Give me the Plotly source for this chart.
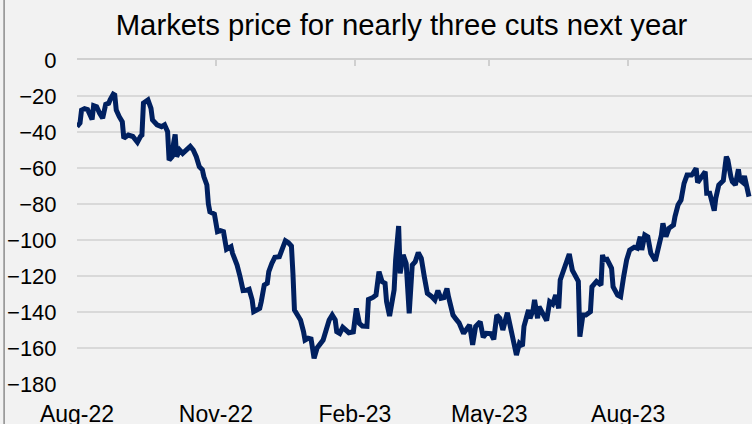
import plotly.graph_objects as go

dates = [
    "2022-08-01", "2022-08-03", "2022-08-04", "2022-08-06", "2022-08-08", "2022-08-11", "2022-08-12",
    "2022-08-14", "2022-08-16", "2022-08-18", "2022-08-20", "2022-08-22", "2022-08-23", "2022-08-25",
    "2022-08-26", "2022-08-27", "2022-08-29", "2022-08-31", "2022-09-01", "2022-09-04", "2022-09-07",
    "2022-09-10", "2022-09-12", "2022-09-13", "2022-09-14", "2022-09-17", "2022-09-19", "2022-09-20",
    "2022-09-23", "2022-09-26", "2022-09-28", "2022-09-30", "2022-10-01", "2022-10-03", "2022-10-04",
    "2022-10-05", "2022-10-06", "2022-10-08", "2022-10-10", "2022-10-13", "2022-10-15", "2022-10-17",
    "2022-10-19", "2022-10-21", "2022-10-23", "2022-10-24", "2022-10-26", "2022-10-27", "2022-10-28",
    "2022-10-31", "2022-11-02", "2022-11-04", "2022-11-06", "2022-11-08", "2022-11-11", "2022-11-12",
    "2022-11-15", "2022-11-17", "2022-11-19", "2022-11-21", "2022-11-23", "2022-11-25", "2022-11-26",
    "2022-11-28", "2022-11-30", "2022-12-01", "2022-12-03", "2022-12-05", "2022-12-06", "2022-12-08",
    "2022-12-10", "2022-12-13", "2022-12-15", "2022-12-17", "2022-12-19", "2022-12-21", "2022-12-22",
    "2022-12-23", "2022-12-25", "2022-12-27", "2022-12-29", "2022-12-30", "2023-01-01", "2023-01-03",
    "2023-01-04", "2023-01-05", "2023-01-07", "2023-01-09", "2023-01-11", "2023-01-13", "2023-01-15",
    "2023-01-17", "2023-01-19", "2023-01-20", "2023-01-22", "2023-01-24", "2023-01-26", "2023-01-28",
    "2023-01-31", "2023-02-02", "2023-02-04", "2023-02-06", "2023-02-09", "2023-02-10", "2023-02-13",
    "2023-02-15", "2023-02-17", "2023-02-19", "2023-02-21", "2023-02-22", "2023-02-24", "2023-02-27",
    "2023-02-28", "2023-03-02", "2023-03-03", "2023-03-05", "2023-03-07", "2023-03-09", "2023-03-11",
    "2023-03-13", "2023-03-15", "2023-03-17", "2023-03-19", "2023-03-21", "2023-03-24", "2023-03-26",
    "2023-03-28", "2023-03-30", "2023-04-01", "2023-04-03", "2023-04-04", "2023-04-07", "2023-04-09",
    "2023-04-11", "2023-04-14", "2023-04-16", "2023-04-18", "2023-04-20", "2023-04-22", "2023-04-25",
    "2023-04-27", "2023-04-29", "2023-05-02", "2023-05-04", "2023-05-06", "2023-05-08", "2023-05-10",
    "2023-05-13", "2023-05-15", "2023-05-17", "2023-05-19", "2023-05-21", "2023-05-23", "2023-05-24",
    "2023-05-27", "2023-05-28", "2023-05-30", "2023-05-31", "2023-06-02", "2023-06-03", "2023-06-06",
    "2023-06-08", "2023-06-10", "2023-06-12", "2023-06-14", "2023-06-16", "2023-06-17", "2023-06-19",
    "2023-06-21", "2023-06-23", "2023-06-25", "2023-06-28", "2023-06-29", "2023-06-30", "2023-07-02",
    "2023-07-04", "2023-07-07", "2023-07-08", "2023-07-11", "2023-07-14", "2023-07-15", "2023-07-16",
    "2023-07-18", "2023-07-21", "2023-07-22", "2023-07-25", "2023-07-27", "2023-07-29", "2023-07-31",
    "2023-08-02", "2023-08-05", "2023-08-07", "2023-08-09", "2023-08-10", "2023-08-12", "2023-08-14",
    "2023-08-16", "2023-08-19", "2023-08-21", "2023-08-23", "2023-08-24", "2023-08-26", "2023-08-28",
    "2023-08-31", "2023-09-01", "2023-09-03", "2023-09-05", "2023-09-07", "2023-09-09", "2023-09-12",
    "2023-09-13", "2023-09-15", "2023-09-16", "2023-09-18", "2023-09-21", "2023-09-22", "2023-09-24",
    "2023-09-27", "2023-09-28", "2023-09-30", "2023-10-03", "2023-10-05", "2023-10-06", "2023-10-08",
    "2023-10-09", "2023-10-11", "2023-10-13", "2023-10-14", "2023-10-16", "2023-10-17", "2023-10-19",
    "2023-10-20",
]

values = [
    -37, -35, -27.8, -27, -27.5, -33, -25.4,
    -26, -29.6, -32.4, -24.6, -24, -22, -19,
    -19.5, -27.8, -31.5, -34.3, -43.5, -41.7, -42.5,
    -45.7, -42.5, -41.7, -24, -22.2, -26.9, -33.3,
    -36, -37, -36, -39.8, -55.6, -53.7, -46,
    -41.3, -53.7, -50, -51.9, -49, -48, -50,
    -53.7, -59.3, -61, -64.8, -69.4, -80, -84.3,
    -85.6, -95.4, -94.8, -95.4, -105.2, -103.7, -107.4,
    -113.9, -120.4, -128.1, -128, -127.4, -133.3, -139.8,
    -138.9, -138, -134.3, -125, -124, -117.6, -113,
    -109.6, -109.3, -105.6, -100.4, -101.5, -103.3, -118.5,
    -138.9, -141.7, -144.4, -150.9, -155.6, -154.6, -155,
    -160.2, -165.7, -160, -157.4, -155.6, -150, -144.4,
    -141.7, -144.4, -150.9, -151.9, -148.5, -150, -151.5,
    -151, -138, -146.3, -147.8, -148, -133, -131.9,
    -130.6, -117.6, -123.1, -124, -134.3, -142.2, -127.8,
    -111, -92.2, -118.5, -108.3, -113, -140.7, -113.9,
    -112, -107, -110.2, -120.4, -129.6, -131.5, -133.3,
    -128.1, -132.4, -132, -126.9, -131.5, -141.7, -144,
    -146, -151.9, -149, -147.2, -158.3, -148, -145.4,
    -154, -151.9, -152, -155.2, -141.7, -143.5, -150,
    -140.4, -148, -156.5, -163.9, -157.4, -158.9, -148,
    -138.9, -143.5, -138.9, -133.3, -143.5, -137, -141.7,
    -144.8, -134.3, -135.6, -130.6, -138, -122.2, -116.7,
    -112, -107.8, -116.7, -121.9, -123, -153.7, -141.7,
    -141.7, -139.8, -126, -123, -125, -108.3, -111,
    -110.7, -115.7, -126, -130.6, -131.5, -120.4, -111,
    -105.6, -104, -104.6, -98.2, -105.6, -97.2, -98.2,
    -107.4, -111.5, -104.6, -97.2, -90.7, -98.2, -93.5,
    -91.7, -87, -80.6, -77.8, -68.5, -63.9, -63.9,
    -63, -60.2, -68.1, -65.7, -62, -74, -74,
    -83.7, -76.9, -69.4, -67, -53.7, -55.6, -64.8,
    -67.6, -69.4, -60.7, -66.7, -68.1, -64.4, -74,
    -75.9,
]

title_text = "Markets price for nearly three cuts next year"
y_ticks = [0, -20, -40, -60, -80, -100, -120, -140, -160, -180]

FONT = "Liberation Sans, Arial, sans-serif"
BG = "#f2f2f2"
GRID = "#d9d9d9"
x_range = ["2022-08-01", "2023-10-22"]

fig = go.Figure()
fig.add_trace(go.Scatter(
    x=dates, y=values, mode="lines",
    line=dict(color="#002060", width=5, shape="linear"),
    hoverinfo="x+y", showlegend=False,
))
# invisible companion trace so the top (tick) axis renders
fig.add_trace(go.Scatter(
    x=dates, y=values, mode="lines", xaxis="x2",
    line=dict(color="rgba(0,0,0,0)", width=0),
    hoverinfo="skip", showlegend=False,
))

fig.update_layout(
    width=752, height=424,
    margin=dict(l=77, r=0, t=60, b=40, autoexpand=False),
    paper_bgcolor=BG, plot_bgcolor=BG,
    font=dict(family=FONT, color="#000000"),
    title=dict(
        text=title_text, font=dict(size=29.3, family=FONT, color="#000000"),
        x=0.4807, xref="paper", xanchor="center",
        y=1 - 25 / 424, yref="container", yanchor="middle",
        automargin=False,
    ),
    xaxis=dict(
        type="date", range=x_range, automargin=False,
        tick0="2022-08-01", dtick="M3", tickformat="%b-%y",
        ticks="outside", ticklen=9, tickcolor="rgba(0,0,0,0)",
        tickfont=dict(size=23, family=FONT, color="#000000"),
        showgrid=False, zeroline=False, showline=False,
    ),
    xaxis2=dict(
        type="date", range=x_range, overlaying="x", side="top", matches="x",
        automargin=False,
        tick0="2022-08-01", dtick="M3",
        ticks="inside", ticklen=6, tickwidth=1.5, tickcolor="#d0d0d0",
        showticklabels=False, showgrid=False, zeroline=False,
        showline=True, linecolor="#d0d0d0", linewidth=1.5,
    ),
    yaxis=dict(
        range=[-180, 0], tickvals=y_ticks, automargin=False,
        ticks="outside", ticklen=15, tickcolor="rgba(0,0,0,0)",
        tickfont=dict(size=22, family=FONT, color="#000000"),
        showgrid=True, gridcolor=GRID, gridwidth=1.5,
        zeroline=False, showline=False,
    ),
    shapes=[dict(
        type="line", xref="paper", yref="paper",
        x0=-0.108, x1=-0.108, y0=-0.2, y1=1.3,
        line=dict(color="#8c8c8c", width=1.5),
    )],
)

fig.write_html(
    "out.html",
    config={"displayModeBar": False},
    post_script="document.body.style.margin='0';document.body.style.overflow='hidden';",
)
